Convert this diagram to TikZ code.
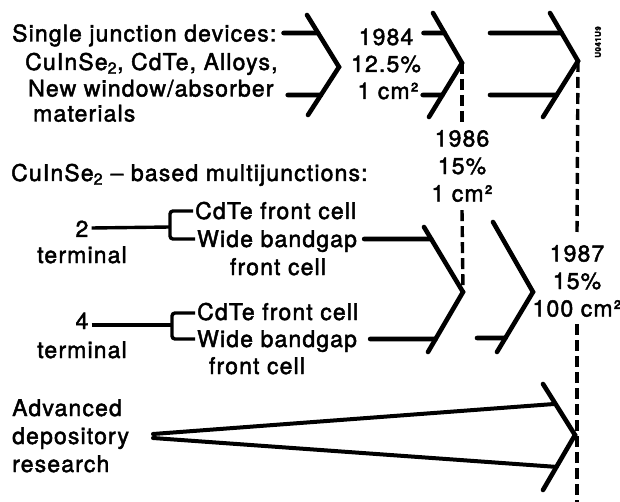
\documentclass[tikz,border=0pt]{standalone}
\usepackage{fontspec}
\setmainfont{TeX Gyre Heros}[LetterSpace=5,FakeBold=2]
\usetikzlibrary{calc,positioning}

\newcommand{\lblfont}{\fontsize{23}{27.5}\selectfont}

\tikzset{
  lbl/.style={font=\lblfont, inner sep=0pt, anchor=base west},
  ctr/.style={lbl, anchor=base},
  stack/.style={font=\lblfont, inner sep=0pt, align=center, anchor=north},
  chev/.style={line width=4.6pt, line cap=round, line join=miter},
  arm/.style={line width=4.6pt, line cap=round},
  brk/.style={line width=3.4pt, rounded corners=3pt},
  gap line/.style={line width=3.4pt, dash pattern=on 11pt off 5pt}
}

\begin{document}
\begin{tikzpicture}[x=1pt,y=-1pt]
  \useasboundingbox (0,0) rectangle (620,502);

  % left column
  \node (sj_head) [lbl] at (12,41.5) {Single junction devices:};
  \node (sj_mat) [lbl] at (25,70) {CuInSe\textsubscript{2}, CdTe, Alloys,};
  \node (sj_win) [lbl] at (28,96.5) {New window/absorber};
  \node (sj_more) [lbl] at (33,121.5) {materials};

  \node (mj_head) [lbl] at (11,181) {CuInSe\textsubscript{2} -- based multijunctions:};
  \node (two) [ctr] at (82,237) {2};
  \node (two_term) [ctr] at (82,263) {terminal};
  \node (cd_a) [lbl] at (195,219) {CdTe front cell};
  \node (wb_a) [lbl] at (197,247) {Wide bandgap};
  \node (fc_a) [ctr] at (278,275) {front cell};
  \node (four) [ctr] at (82,329) {4};
  \node (four_term) [ctr] at (82,358) {terminal};
  \node (cd_b) [lbl] at (197,320) {CdTe front cell};
  \node (wb_b) [lbl] at (197,347) {Wide bandgap};
  \node (fc_b) [ctr] at (257,374) {front cell};

  \node (adv_a) [lbl] at (12,416) {Advanced};
  \node (adv_b) [lbl] at (12,444) {depository};
  \node (adv_c) [lbl] at (12,472) {research};

  % milestones
  \node (y84) [ctr] at (386,45) {1984};
  \node (eff84) [ctr] at (386,72) {12.5\%};
  \node (area84) [ctr] at (388,99) {1 cm²};
  \node (m86) [stack] at (462,130) {1986\\15\%\\1 cm²};
  \node (m87) [stack] at (577,245) {1987\\15\%\\100 cm²};
  \node (tag) [font=\bfseries\fontsize{8}{8}\selectfont, inner sep=0pt, rotate=90] at (598,42) {U041U9};

  % brackets
  \coordinate (br_a) at (170,227);
  \draw[brk] ([xshift=3pt,yshift=9pt]two.base east) -- (br_a);
  \draw[brk] ([xshift=-2pt,yshift=8pt]cd_a.base west) -| (br_a) |- ([xshift=-2pt,yshift=8pt]wb_a.base west);
  \coordinate (br_b) at (172,325);
  \draw[brk] ([xshift=3pt,yshift=4pt]four.base east) -- (br_b);
  \draw[brk] ([xshift=-2pt,yshift=7pt]cd_b.base west) -| (br_b) |- ([xshift=-2pt,yshift=8pt]wb_b.base west);

  % chevron after single junction text
  \coordinate (A_in) at (307,15);
  \coordinate (A) at (339,67);
  \coordinate (A_out) at (308,115);
  \coordinate (A_u) at ([xshift=7pt,yshift=8.5pt]sj_head.base east);
  \coordinate (A_l) at ([xshift=14pt,yshift=1.5pt]sj_win.base east);
  \coordinate (A_u2) at (A_u -| A);
  \coordinate (A_l2) at (A_l -| A);
  \draw[arm] (A_u) -- (intersection of A_in--A and A_u--A_u2);
  \draw[arm] (A_l) -- (intersection of A--A_out and A_l--A_l2);
  \draw[chev] (A_in) -- (A) -- (A_out);

  % chevron to 1986
  \coordinate (B_in) at (433,13);
  \coordinate (B) at (462,63);
  \coordinate (B_out) at (429,117);
  \coordinate (B_u) at ([xshift=10pt,yshift=12pt]y84.base east);
  \coordinate (B_l) at ([xshift=4pt,yshift=4pt]area84.base east);
  \coordinate (B_u2) at (B_u -| B);
  \coordinate (B_l2) at (B_l -| B);
  \draw[arm] (B_u) -- (intersection of B_in--B and B_u--B_u2);
  \draw[arm] (B_l) -- (intersection of B--B_out and B_l--B_l2);
  \draw[chev] (B_in) -- (B) -- (B_out);

  % chevron to 1987
  \coordinate (C_in) at (550,13);
  \coordinate (C) at (578,61);
  \coordinate (C_out) at (543,117);
  \coordinate (C_u) at (490,33);
  \coordinate (C_l) at (490,95);
  \coordinate (C_u2) at (C_u -| C);
  \coordinate (C_l2) at (C_l -| C);
  \draw[arm] (C_u) -- (intersection of C_in--C and C_u--C_u2);
  \draw[arm] (C_l) -- (intersection of C--C_out and C_l--C_l2);
  \draw[chev] (C_in) -- (C) -- (C_out);

  % multijunction chevrons
  \coordinate (D_in) at (424,227);
  \coordinate (D) at (463,292);
  \coordinate (D_out) at (428,352);
  \coordinate (D_u) at ([xshift=7pt,yshift=8pt]wb_a.base east);
  \coordinate (D_l) at ([xshift=13pt,yshift=8pt]wb_b.base east);
  \coordinate (D_u2) at (D_u -| D);
  \coordinate (D_l2) at (D_l -| D);
  \draw[arm] (D_u) -- (intersection of D_in--D and D_u--D_u2);
  \draw[arm] (D_l) -- (intersection of D--D_out and D_l--D_l2);
  \draw[chev] (D_in) -- (D) -- (D_out);

  \coordinate (E_in) at (493,222);
  \coordinate (E) at (533,292);
  \coordinate (E_out) at (497,352);
  \coordinate (E_l) at (477,338);
  \coordinate (E_l2) at (E_l -| E);
  \draw[arm] (E_l) -- (intersection of E--E_out and E_l--E_l2);
  \draw[chev] (E_in) -- (E) -- (E_out);

  % advanced research fan
  \coordinate (F) at (153,436);
  \coordinate (G_in) at (543,384);
  \coordinate (G) at (575,435);
  \coordinate (G_out) at (543,490);
  \draw[arm, line width=4pt] ([yshift=2pt]F) -- ($(G_in)!.39!(G)$);
  \draw[arm, line width=4pt] ([yshift=-2pt]F) -- ($(G)!.58!(G_out)$);
  \draw[chev] (G_in) -- (G) -- (G_out);

  % dashed time lines
  \coordinate (floor) at (577,502);
  \draw[gap line] (B) -- ([yshift=7pt]m86.north);
  \draw[gap line] ([yshift=-8pt]m86.south) -- (D);
  \draw[gap line] (C) -- ([yshift=12pt]m87.north);
  \draw[gap line] ([yshift=-7pt]m87.south) -- (floor);
\end{tikzpicture}
\end{document}
